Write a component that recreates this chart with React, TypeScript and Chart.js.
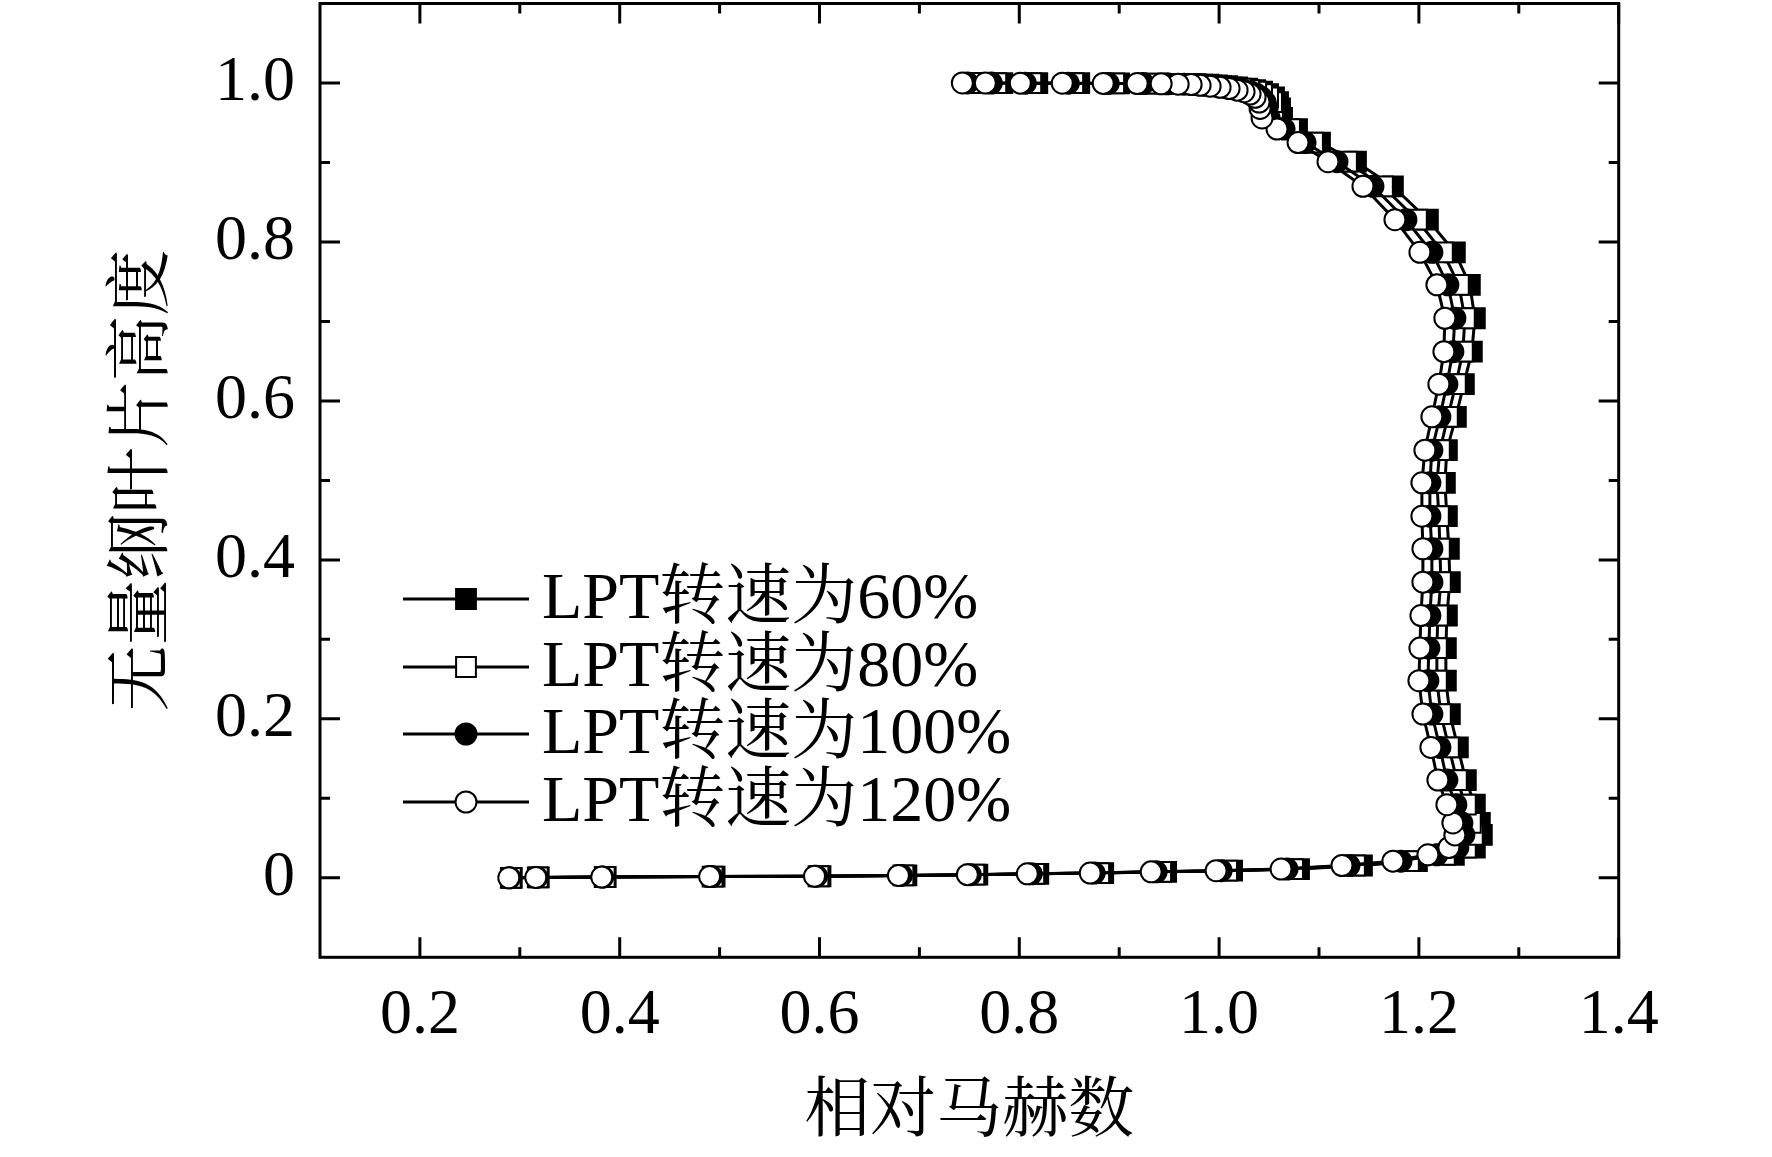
import React, { useEffect, useRef } from 'react';
import { Chart, registerables } from 'chart.js';

Chart.register(...registerables);

// Dimensionless blade height (shared by all four series, hub -> tip)
const bladeHeight = [
  0.0, 0.0005, 0.001, 0.0015, 0.002, 0.003, 0.004, 0.005, 0.006, 0.0075,
  0.009, 0.011, 0.0155, 0.021, 0.029, 0.038, 0.054, 0.069, 0.092, 0.123,
  0.164, 0.206, 0.248, 0.289, 0.33, 0.372, 0.414, 0.455, 0.497, 0.538,
  0.58, 0.621, 0.662, 0.704, 0.746, 0.787, 0.828, 0.87, 0.901, 0.925,
  0.942, 0.956, 0.968, 0.976, 0.982, 0.986, 0.989, 0.991, 0.993, 0.9945,
  0.996, 0.997, 0.998, 0.9985, 0.999, 0.9993, 0.9995, 0.9997, 0.9998, 0.9999,
  1.0,
];

// Relative Mach number, LPT speed 60 %
const mach60 = [
  0.292, 0.319, 0.386, 0.495, 0.601, 0.687, 0.758, 0.819, 0.884, 0.947,
  1.013, 1.08, 1.143, 1.198, 1.235, 1.256, 1.263, 1.261, 1.256, 1.247,
  1.239, 1.231, 1.227, 1.227, 1.228, 1.231, 1.23, 1.228, 1.226, 1.228,
  1.237, 1.245, 1.253, 1.256, 1.251, 1.236, 1.209, 1.174, 1.137, 1.101,
  1.078, 1.063, 1.061, 1.059, 1.055, 1.049, 1.043, 1.036, 1.028, 1.018,
  1.008, 0.998, 0.989, 0.976, 0.959, 0.935, 0.9, 0.86, 0.818, 0.783,
  0.758,
];

// Relative Mach number, LPT speed 80 %
const mach80 = [
  0.291, 0.318, 0.385, 0.493, 0.599, 0.684, 0.755, 0.815, 0.88, 0.942,
  1.008, 1.074, 1.136, 1.19, 1.226, 1.247, 1.254, 1.252, 1.247, 1.238,
  1.23, 1.222, 1.218, 1.218, 1.219, 1.222, 1.221, 1.22, 1.218, 1.221,
  1.229, 1.237, 1.244, 1.246, 1.24, 1.224, 1.198, 1.164, 1.128, 1.094,
  1.071, 1.056, 1.054, 1.053, 1.049, 1.043, 1.037, 1.03, 1.022, 1.012,
  1.002, 0.992, 0.983, 0.97, 0.953, 0.929, 0.895, 0.854, 0.812, 0.777,
  0.753,
];

// Relative Mach number, LPT speed 100 %
const mach100 = [
  0.29, 0.317, 0.383, 0.492, 0.597, 0.682, 0.751, 0.812, 0.875, 0.937,
  1.002, 1.068, 1.13, 1.182, 1.218, 1.239, 1.245, 1.243, 1.237, 1.228,
  1.221, 1.213, 1.209, 1.21, 1.211, 1.213, 1.213, 1.211, 1.211, 1.213,
  1.221, 1.228, 1.234, 1.236, 1.229, 1.213, 1.187, 1.154, 1.118, 1.086,
  1.065, 1.05, 1.048, 1.046, 1.042, 1.037, 1.031, 1.024, 1.016, 1.007,
  0.997, 0.987, 0.978, 0.965, 0.948, 0.924, 0.889, 0.849, 0.806, 0.772,
  0.748,
];

// Relative Mach number, LPT speed 120 %
const mach120 = [
  0.289, 0.316, 0.382, 0.49, 0.595, 0.679, 0.748, 0.808, 0.871, 0.932,
  0.997, 1.062, 1.123, 1.174, 1.209, 1.23, 1.236, 1.234, 1.228, 1.219,
  1.212, 1.204, 1.2, 1.201, 1.202, 1.204, 1.204, 1.203, 1.203, 1.206,
  1.213, 1.22, 1.225, 1.226, 1.218, 1.201, 1.176, 1.144, 1.109, 1.079,
  1.058, 1.043, 1.041, 1.04, 1.036, 1.031, 1.025, 1.018, 1.01, 1.001,
  0.991, 0.981, 0.972, 0.959, 0.942, 0.918, 0.884, 0.843, 0.801, 0.766,
  0.743,
];

const seriesLabels = ['LPT转速为60%', 'LPT转速为80%', 'LPT转速为100%', 'LPT转速为120%'];
const xTickValues = [0.2, 0.4, 0.6, 0.8, 1.0, 1.2, 1.4];
const xTickLabels = ['0.2', '0.4', '0.6', '0.8', '1.0', '1.2', '1.4'];
const xMinorTicks = [0.3, 0.5, 0.7, 0.9, 1.1, 1.3];
const yTickValues = [0, 0.2, 0.4, 0.6, 0.8, 1.0];
const yTickLabels = ['0', '0.2', '0.4', '0.6', '0.8', '1.0'];
const yMinorTicks = [0.1, 0.3, 0.5, 0.7, 0.9];
const xTitle = '相对马赫数';
const yTitle = '无量纲叶片高度';

const FONT = "'Times New Roman', 'Liberation Serif', 'Noto Serif CJK SC', 'Noto Sans CJK SC', serif";

type Style = { pointStyle: 'rect' | 'circle'; filled: boolean; radius: number };
const styles: Style[] = [
  { pointStyle: 'rect', filled: true, radius: 14 },
  { pointStyle: 'rect', filled: false, radius: 14 },
  { pointStyle: 'circle', filled: true, radius: 10.5 },
  { pointStyle: 'circle', filled: false, radius: 10.5 },
];
const seriesValues = [mach60, mach80, mach100, mach120];

const framePlugin = {
  id: 'frameTicks',
  afterDraw(chart: any) {
    const { ctx, chartArea: a, scales } = chart;
    const xs = scales.x;
    const ys = scales.y;
    ctx.save();
    ctx.strokeStyle = '#000';
    ctx.lineWidth = 3;
    ctx.lineCap = 'butt';
    ctx.strokeRect(a.left, a.top, a.right - a.left, a.bottom - a.top);
    ctx.beginPath();
    const xt = (v: number, len: number) => {
      const px = xs.getPixelForValue(v);
      ctx.moveTo(px, a.bottom);
      ctx.lineTo(px, a.bottom - len);
      ctx.moveTo(px, a.top);
      ctx.lineTo(px, a.top + len);
    };
    const yt = (v: number, len: number) => {
      const py = ys.getPixelForValue(v);
      ctx.moveTo(a.left, py);
      ctx.lineTo(a.left + len, py);
      ctx.moveTo(a.right, py);
      ctx.lineTo(a.right - len, py);
    };
    xTickValues.forEach((v) => xt(v, 20));
    xMinorTicks.forEach((v) => xt(v, 10));
    yTickValues.forEach((v) => yt(v, 20));
    yMinorTicks.forEach((v) => yt(v, 10));
    ctx.stroke();

    // legend
    const lx0 = 403;
    const lx1 = 529;
    const mx = 466;
    const tx = 542;
    const rows = [599, 667, 734, 802];
    ctx.font = `66px ${FONT}`;
    ctx.textBaseline = 'middle';
    ctx.textAlign = 'left';
    seriesLabels.forEach((label, i) => {
      const y = rows[i];
      const st = styles[i];
      ctx.beginPath();
      ctx.lineWidth = 3;
      ctx.strokeStyle = '#000';
      ctx.moveTo(lx0, y);
      ctx.lineTo(lx1, y);
      ctx.stroke();
      ctx.beginPath();
      if (st.pointStyle === 'rect') {
        const h = st.radius * Math.SQRT1_2;
        ctx.rect(mx - h, y - h, 2 * h, 2 * h);
      } else {
        ctx.arc(mx, y, st.radius, 0, Math.PI * 2);
      }
      ctx.fillStyle = st.filled ? '#000' : '#fff';
      ctx.fill();
      ctx.lineWidth = 2;
      ctx.stroke();
      ctx.fillStyle = '#000';
      ctx.fillText(label, tx, y + 2);
    });
    ctx.restore();
  },
};

export default function App() {
  const ref = useRef<HTMLCanvasElement | null>(null);

  useEffect(() => {
    if (!ref.current) return;
    const datasets = seriesValues.map((vals, i) => ({
      label: seriesLabels[i],
      data: vals.map((x, k) => ({ x, y: bladeHeight[k] })),
      showLine: true,
      borderColor: '#000',
      borderWidth: 3,
      tension: 0,
      pointStyle: styles[i].pointStyle,
      pointRadius: styles[i].radius,
      pointBackgroundColor: styles[i].filled ? '#000' : '#fff',
      pointBorderColor: '#000',
      pointBorderWidth: 2,
      order: 3 - i,
    }));

    const chart = new Chart(ref.current, {
      type: 'scatter',
      data: { datasets },
      options: {
        responsive: false,
        devicePixelRatio: 1,
        animation: false,
        events: [],
        layout: { autoPadding: false, padding: { left: 0, top: 3.5, right: 153.3, bottom: 0 } },
        plugins: { legend: { display: false }, tooltip: { enabled: false } },
        scales: {
          x: {
            type: 'linear',
            min: 0.1,
            max: 1.4,
            grid: { display: false, drawTicks: false },
            border: { display: false },
            afterBuildTicks: (s: any) => {
              s.ticks = xTickValues.map((v) => ({ value: v }));
            },
            afterFit: (s: any) => {
              s.height = 199.7;
              s.paddingLeft = 0;
              s.paddingRight = 0;
            },
            ticks: {
              autoSkip: false,
              maxRotation: 0,
              color: '#000',
              padding: 20,
              font: { family: FONT, size: 64, lineHeight: 1.2 },
              callback: (v: any) => {
                const idx = xTickValues.findIndex((t) => Math.abs(t - Number(v)) < 1e-9);
                return idx >= 0 ? xTickLabels[idx] : '';
              },
            },
            title: {
              display: true,
              text: xTitle,
              color: '#000',
              font: { family: FONT, size: 66, lineHeight: 1.2 },
              padding: { top: 0, bottom: 3.4 },
            },
          },
          y: {
            type: 'linear',
            min: -0.1,
            max: 1.1,
            grid: { display: false, drawTicks: false },
            border: { display: false },
            afterBuildTicks: (s: any) => {
              s.ticks = yTickValues.map((v) => ({ value: v }));
            },
            afterFit: (s: any) => {
              s.width = 320;
              s.paddingTop = 0;
              s.paddingBottom = 0;
            },
            ticks: {
              autoSkip: false,
              color: '#000',
              padding: 25,
              font: { family: FONT, size: 64, lineHeight: 1.2 },
              callback: (v: any) => {
                const idx = yTickValues.findIndex((t) => Math.abs(t - Number(v)) < 1e-9);
                return idx >= 0 ? yTickLabels[idx] : '';
              },
            },
            title: {
              display: true,
              text: yTitle,
              color: '#000',
              font: { family: FONT, size: 66, lineHeight: 1.2 },
              padding: { top: 105.4, bottom: 0 },
            },
          },
        },
      },
      plugins: [framePlugin],
    });
    return () => chart.destroy();
  }, []);

  return (
    <div style={{ position: 'fixed', left: 0, top: 0, width: 1772, height: 1157, background: '#fff' }}>
      <canvas ref={ref} width={1772} height={1157} style={{ display: 'block' }} />
    </div>
  );
}
